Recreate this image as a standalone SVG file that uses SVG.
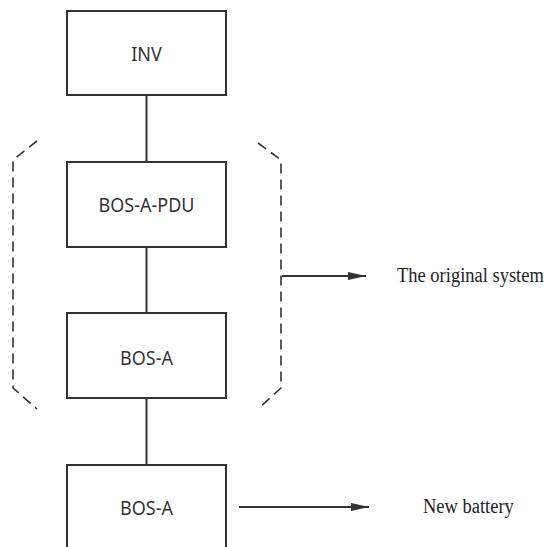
<svg xmlns="http://www.w3.org/2000/svg" width="544" height="547" viewBox="0 0 544 547">
<defs>
<style>
.box{fill:#fff;stroke:#333;stroke-width:2}
.lbl{font-family:"Noto Sans","Open Sans",sans-serif;font-size:18px;fill:#333;text-anchor:middle}
.note{font-family:"Liberation Serif","Times New Roman",serif;font-size:18.5px;fill:#222}
.wire{stroke:#333;stroke-width:2;fill:none}
.brk{stroke:#333;stroke-width:1.6;fill:none;stroke-dasharray:10 6}
</style>
<marker id="ah" viewBox="0 0 10 10" refX="10" refY="5" markerWidth="18" markerHeight="8" markerUnits="userSpaceOnUse" orient="auto" preserveAspectRatio="none">
<path d="M0,0 L10,5 L0,10 z" fill="#333"/>
</marker>
</defs>
<rect width="544" height="547" fill="#fff"/>
<g id="connectors">
<line class="wire" x1="146.5" y1="95" x2="146.5" y2="162"/>
<line class="wire" x1="146.5" y1="247" x2="146.5" y2="313"/>
<line class="wire" x1="146.5" y1="398" x2="146.5" y2="465"/>
<path class="brk" d="M37,141 L13,160 L13,388 L37,409"/>
<path class="brk" d="M258,143 L281,160 L281,388 L258,409"/>
<line class="wire" x1="282" y1="276" x2="366" y2="276" marker-end="url(#ah)"/>
<line class="wire" x1="239" y1="507" x2="369" y2="507" marker-end="url(#ah)"/>
</g>
<g id="inv"><rect class="box" x="67" y="11" width="159" height="84"/><text class="lbl" transform="translate(146.5,61) scale(1,1.1)">INV</text></g>
<g id="pdu"><rect class="box" x="67" y="162" width="159" height="85"/><text class="lbl" transform="translate(146.5,211.5) scale(1,1.1)">BOS-A-PDU</text></g>
<g id="bosa1"><rect class="box" x="67" y="313" width="159" height="85"/><text class="lbl" transform="translate(146.5,364.5) scale(1,1.1)">BOS-A</text></g>
<g id="bosa2"><rect class="box" x="67" y="465" width="159" height="100"/><text class="lbl" transform="translate(146.5,515) scale(1,1.1)">BOS-A</text></g>
<g id="notes">
<text class="note" transform="translate(397,282) scale(1,1.18)">The original system</text>
<text class="note" transform="translate(423,513) scale(1,1.18)">New battery</text>
</g>
</svg>
